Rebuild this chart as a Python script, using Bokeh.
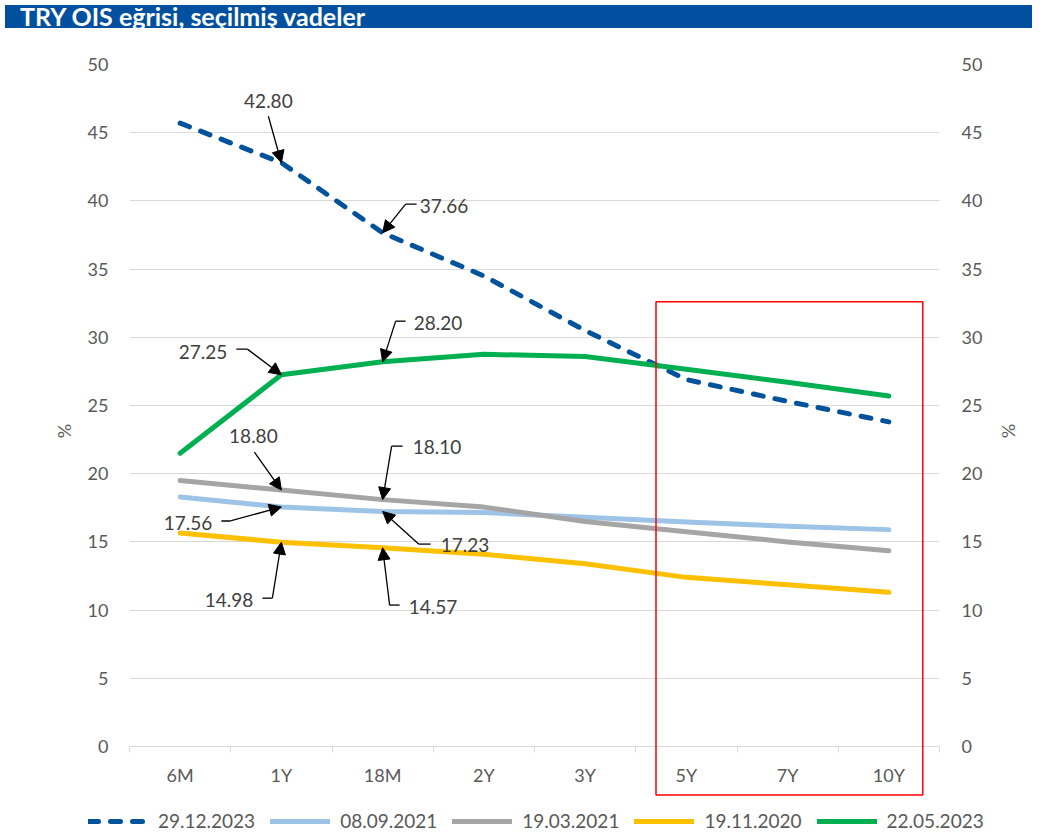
from bokeh.plotting import figure
from bokeh.models import (LinearAxis, FixedTicker, Range1d, Legend, LegendItem,
                          Arrow, NormalHead, Label, BoxAnnotation, Div)
from bokeh.layouts import column
from bokeh.embed import file_html
from bokeh.resources import INLINE

# ---------------- data ----------------
tenors = ["6M", "1Y", "18M", "2Y", "3Y", "5Y", "7Y", "10Y"]
s_29_12_2023 = [45.7, 42.80, 37.66, 34.5, 30.5, 26.9, 25.3, 23.8]
s_08_09_2021 = [18.3, 17.56, 17.23, 17.15, 16.8, 16.45, 16.15, 15.9]
s_19_03_2021 = [19.5, 18.80, 18.10, 17.55, 16.5, 15.75, 15.0, 14.35]
s_19_11_2020 = [15.65, 14.98, 14.57, 14.1, 13.4, 12.4, 11.85, 11.3]
s_22_05_2023 = [21.5, 27.25, 28.20, 28.75, 28.6, 27.65, 26.7, 25.7]
series_names = ["29.12.2023", "08.09.2021", "19.03.2021", "19.11.2020", "22.05.2023"]
y_ticks = [0, 5, 10, 15, 20, 25, 30, 35, 40, 45, 50]
title_text = "TRY OIS eğrisi, seçilmiş vadeler"

# ---------------- styling ----------------
FONT = "Lato"
GREY = "#595959"
GRID = "#d9d9d9"
FIG_W, FIG_H = 1027, 764
LEG_H = 35
B_LEFT, B_RIGHT, B_TOP, B_BOTTOM = 129, 88, 31, 0
FRAME_W = FIG_W - B_LEFT - B_RIGHT
FRAME_H = FIG_H - B_TOP - B_BOTTOM
PXX = FRAME_W / len(tenors)
PXY = 682 / 50.0                 # pixels per percentage point
Y_MAX = 50
Y_MIN = Y_MAX - FRAME_H / PXY    # frame reaches below 0 to hold the category row
ZERO_TO_BOTTOM = -Y_MIN * PXY    # px between the 0 line and the frame bottom

x_idx = list(range(len(tenors)))
all_series = [s_29_12_2023, s_08_09_2021, s_19_03_2021, s_19_11_2020, s_22_05_2023]
styles = [
    dict(color="#00529b", dash="10 12"),
    dict(color="#9dc3e6", dash="solid"),
    dict(color="#a5a5a5", dash="solid"),
    dict(color="#ffc000", dash="solid"),
    dict(color="#00b050", dash="solid"),
]

p = figure(width=FIG_W, height=FIG_H, output_backend="svg", toolbar_location=None,
           x_range=Range1d(-0.5, len(tenors) - 0.5), y_range=Range1d(Y_MIN, Y_MAX),
           min_border_left=B_LEFT, min_border_right=B_RIGHT, min_border_top=B_TOP,
           min_border_bottom=B_BOTTOM)
p.frame_align = False
p.outline_line_color = None
p.background_fill_color = "white"

# y axes + grid
yt = FixedTicker(ticks=y_ticks)
p.yaxis.ticker = yt
p.ygrid.ticker = yt
p.ygrid.grid_line_color = GRID
p.ygrid.grid_line_width = 1
p.xgrid.grid_line_color = None

right_axis = LinearAxis(ticker=yt)
p.add_layout(right_axis, "right")

for ax, standoff, lab_standoff in [(p.yaxis[0], 21, 10), (right_axis, 22, 13)]:
    ax.axis_line_color = None
    ax.major_tick_line_color = None
    ax.minor_tick_line_color = None
    ax.major_tick_out = 0
    ax.major_tick_in = 0
    ax.minor_tick_out = 0
    ax.major_label_standoff = standoff
    ax.major_label_text_font = FONT
    ax.major_label_text_font_size = "18px"
    ax.major_label_text_color = GREY
    ax.axis_label = "%"
    ax.axis_label_text_font = FONT
    ax.axis_label_text_font_size = "18px"
    ax.axis_label_text_font_style = "normal"
    ax.axis_label_text_color = GREY
    ax.axis_label_standoff = lab_standoff

# x axis: sits at the frame bottom; labels and category ticks reach up to the 0 line
gap = int(round(ZERO_TO_BOTTOM))
xa = p.xaxis[0]
xa.ticker = FixedTicker(ticks=x_idx, minor_ticks=[i - 0.5 for i in range(len(tenors) + 1)])
xa.major_label_overrides = {i: t for i, t in enumerate(tenors)}
xa.axis_line_color = None
xa.major_tick_line_color = None
xa.major_tick_out = 0
xa.major_tick_in = 0
xa.minor_tick_line_color = GRID
xa.minor_tick_in = gap
xa.minor_tick_out = -(gap - 6)
xa.major_label_standoff = 17 - gap
xa.major_label_text_font = FONT
xa.major_label_text_font_size = "18px"
xa.major_label_text_color = GREY

# lines
renderers = []
for vals, st in zip(all_series, styles):
    r = p.line(x_idx, vals, line_color=st["color"], line_width=5,
               line_dash=st["dash"], line_cap="round", line_join="round")
    renderers.append(r)

# red highlight box around the long end
p.add_layout(BoxAnnotation(left=4.7, right=7.335, top=32.6, bottom=-3.55,
                           fill_alpha=0, line_color="#ff0000", line_alpha=1,
                           line_width=1.5, level="overlay"))

# annotations: (series, tenor index, label offset px, align, elbow offset px, stub end offset px)
annots = [
    (0, 1, (-13, -62), "center", (-13, -46.5), None),
    (0, 2, (37, -27), "left", (23, -28.7), (34, -28.7)),
    (4, 1, (-54, -23), "right", (-34, -25.7), (-45, -25.7)),
    (4, 2, (31, -39), "left", (13, -40.7), (23, -40.7)),
    (2, 1, (-28, -54), "center", (-27, -38), None),
    (2, 2, (30, -53), "left", (9, -53.5), (20, -53.5)),
    (1, 1, (-69, 16), "right", (-51, 14), (-60, 14)),
    (1, 2, (58, 34), "left", (36, 32.6), (48, 32.6)),
    (3, 1, (-28, 58), "right", (-9, 56), (-19, 56)),
    (3, 2, (26, 59), "left", (7, 57.3), (17, 57.3)),
]
for si, ci, loff, align, elb, stub in annots:
    v = all_series[si][ci]
    x0 = ci + elb[0] / PXX
    y0 = v - elb[1] / PXY
    p.add_layout(Arrow(end=NormalHead(size=12, fill_color="black", line_color="black", line_width=1),
                       x_start=x0, y_start=y0, x_end=ci, y_end=v,
                       line_color="black", line_width=1.3))
    if stub is not None:
        p.segment(x0=[x0], y0=[y0], x1=[ci + stub[0] / PXX], y1=[v - stub[1] / PXY],
                  line_color="black", line_width=1.3)
    p.add_layout(Label(x=ci, y=v, x_offset=loff[0], y_offset=-loff[1], text=f"{v:.2f}",
                       text_align=align, text_baseline="middle", text_font=FONT,
                       text_font_size="19px", text_color="#404040"))

# ---------------- legend strip (own small figure, series drawn off-view) ----------------
lg = figure(width=FIG_W, height=LEG_H, output_backend="svg", toolbar_location=None,
            x_range=Range1d(100, 101), y_range=Range1d(100, 101),
            x_axis_type=None, y_axis_type=None,
            min_border_left=0, min_border_right=0, min_border_top=0, min_border_bottom=0)
lg.frame_align = False
lg.outline_line_color = None
lg.xgrid.visible = False
lg.ygrid.visible = False
leg_renderers = []
for vals, st in zip(all_series, styles):
    leg_renderers.append(lg.line(x_idx, vals, line_color=st["color"], line_width=5,
                                 line_dash=st["dash"], line_cap="round", line_join="round"))
legend = Legend(items=[LegendItem(label=n, renderers=[r]) for n, r in zip(series_names, leg_renderers)],
                orientation="horizontal", location=(88, 0),
                glyph_width=60, glyph_height=20, label_standoff=10, spacing=15,
                padding=0, margin=0, border_line_color=None, background_fill_alpha=0,
                label_text_font=FONT, label_text_font_size="19px", label_text_color=GREY)
lg.add_layout(legend, "center")

title = Div(text=title_text, width=FIG_W, height=23,
            styles={"background-color": "#00509f", "color": "white", "font-family": FONT,
                    "font-weight": "bold", "font-size": "25px", "line-height": "23px",
                    "padding-left": "15px", "box-sizing": "border-box", "white-space": "nowrap"})

layout = column(title, p, lg, spacing=0)
open("out.html", "w").write(file_html(layout, INLINE))
